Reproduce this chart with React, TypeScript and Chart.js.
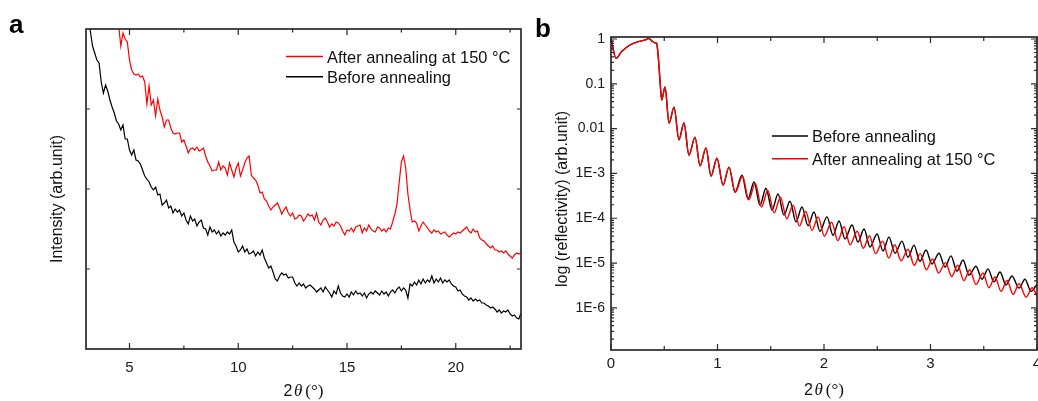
import { useEffect, useRef } from 'react';
import { Chart, registerables } from 'chart.js';

Chart.register(...registerables);

const SANS = '"Liberation Sans", Arial, sans-serif';
const SERIF = '"Liberation Serif", "Times New Roman", serif';
const AXIS_COLOR = '#2a2a2a';
const TEXT_COLOR = '#111111';

// ---------- Panel a: XRD ----------
const xrdAngle = [
  3.1, 3.2, 3.3, 3.4, 3.5, 3.6, 3.7, 3.8, 3.9, 4.0,
  4.1, 4.2, 4.3, 4.4, 4.5, 4.6, 4.7, 4.8, 4.9, 5.0,
  5.1, 5.2, 5.3, 5.4, 5.5, 5.6, 5.7, 5.8, 5.9, 6.0,
  6.1, 6.2, 6.3, 6.4, 6.5, 6.6, 6.7, 6.8, 6.9, 7.0,
  7.1, 7.2, 7.3, 7.4, 7.5, 7.6, 7.7, 7.8, 7.9, 8.0,
  8.1, 8.2, 8.3, 8.4, 8.5, 8.6, 8.7, 8.8, 8.9, 9.0,
  9.1, 9.2, 9.3, 9.4, 9.5, 9.6, 9.7, 9.8, 9.9, 10.0,
  10.1, 10.2, 10.3, 10.4, 10.5, 10.6, 10.7, 10.8, 10.9, 11.0,
  11.1, 11.2, 11.3, 11.4, 11.5, 11.6, 11.7, 11.8, 11.9, 12.0,
  12.1, 12.2, 12.3, 12.4, 12.5, 12.6, 12.7, 12.8, 12.9, 13.0,
  13.1, 13.2, 13.3, 13.4, 13.5, 13.6, 13.7, 13.8, 13.9, 14.0,
  14.1, 14.2, 14.3, 14.4, 14.5, 14.6, 14.7, 14.8, 14.9, 15.0,
  15.1, 15.2, 15.3, 15.4, 15.5, 15.6, 15.7, 15.8, 15.9, 16.0,
  16.1, 16.2, 16.3, 16.4, 16.5, 16.6, 16.7, 16.8, 16.9, 17.0,
  17.1, 17.2, 17.3, 17.4, 17.5, 17.6, 17.7, 17.8, 17.9, 18.0,
  18.1, 18.2, 18.3, 18.4, 18.5, 18.6, 18.7, 18.8, 18.9, 19.0,
  19.1, 19.2, 19.3, 19.4, 19.5, 19.6, 19.7, 19.8, 19.9, 20.0,
  20.1, 20.2, 20.3, 20.4, 20.5, 20.6, 20.7, 20.8, 20.9, 21.0,
  21.1, 21.2, 21.3, 21.4, 21.5, 21.6, 21.7, 21.8, 21.9, 22.0,
  22.1, 22.2, 22.3, 22.4, 22.5, 22.6, 22.7, 22.8, 22.9, 23.0,
];

const xrdBefore = [
  327, 318, 303, 296, 289, 286, 267, 256, 264, 258,
  249, 242, 236, 228, 225, 219, 224, 210, 210, 199,
  194, 199, 189, 188, 185, 179, 173, 170, 167, 162,
  159, 162, 154, 155, 144, 146, 149, 141, 143, 136,
  140, 137, 139, 133, 136, 129, 125, 133, 128, 130,
  123, 127, 129, 121, 120, 114, 122, 117, 119, 115,
  118, 113, 116, 114, 117, 115, 119, 107, 103, 97,
  99, 103, 97, 100, 95, 96, 98, 93, 97, 94,
  99, 91, 86, 81, 83, 77, 70, 68, 73, 76,
  74, 75, 71, 72, 72, 66, 63, 66, 63, 65,
  61, 63, 64, 62, 60, 57, 59, 61, 57, 62,
  59, 56, 52, 58, 55, 63, 56, 53, 52, 55,
  52, 57, 54, 58, 55, 56, 53, 56, 51, 55,
  57, 55, 58, 56, 54, 58, 55, 57, 53, 57,
  59, 56, 60, 62, 58, 61, 59, 51, 65, 63,
  67, 64, 69, 65, 70, 66, 69, 67, 73, 66,
  70, 67, 71, 66, 69, 67, 69, 65, 63, 62,
  58, 59, 55, 53, 52, 49, 51, 48, 50, 48,
  49, 46, 46, 44, 43, 41, 42, 40, 37, 39,
  36, 38, 37, 39, 35, 33, 34, 31, 30, 36,
];

const xrdAfter = [
  null, null, null, null, null, null, null, null, null, null,
  null, null, null, null, 324, 303, 316, 310, 307, 289,
  279, 275, 274, 275, 272, 273, 267, 245, 263, 244,
  249, 233, 250, 239, 232, 222, 229, 229, 221, 216,
  215, 216, 216, 207, 209, 203, 196, 200, 201, 199,
  202, 198, 199, 201, 193, 187, 183, 178, 179, 179,
  187, 179, 183, 181, 174, 186, 179, 172, 181, 186,
  173, 179, 186, 191, 193, 174, 171, 169, 164, 156,
  157, 150, 148, 143, 139, 142, 144, 146, 141, 135,
  139, 142, 136, 133, 136, 130, 131, 134, 133, 128,
  131, 135, 133, 134, 129, 136, 127, 124, 129, 131,
  127, 122, 125, 123, 127, 126, 123, 118, 114, 119,
  118, 121, 117, 122, 123, 124, 116, 121, 118, 124,
  120, 118, 117, 122, 121, 118, 120, 117, 121, 120,
  127, 135, 145, 167, 187, 193, 181, 155, 139, 127,
  128, 126, 118, 123, 127, 124, 121, 118, 116, 119,
  117, 118, 115, 116, 117, 114, 112, 114, 116, 115,
  117, 116, 118, 120, 122, 118, 116, 120, 117, 118,
  111, 109, 108, 105, 103, 101, 103, 99, 99, 97,
  98, 96, 98, 95, 93, 91, 94, 96, 95, 96,
];

const xrdXTicks = [5, 10, 15, 20];
const xrdXMinorTicks = [7.5, 12.5, 17.5, 22.5];
const xrdYTicks = [80, 160, 240];

// ---------- Panel b: XRR (log10 of reflectivity) ----------
const xrrAngleBefore = [
  0, 0.047, 0.1, 0.178, 0.254, 0.335, 0.348, 0.394, 0.413, 0.429, 0.444, 0.46, 0.476,
  0.507, 0.545, 0.592, 0.638, 0.685, 0.732, 0.789, 0.836, 0.892, 0.939, 0.995, 1.052, 1.108,
  1.164, 1.23, 1.286, 1.343, 1.399, 1.455, 1.512, 1.568,
  1.624, 1.681, 1.737, 1.793, 1.85, 1.906, 1.962, 2.028,
  2.085, 2.141, 2.197, 2.263, 2.319, 2.376, 2.432, 2.498,
  2.554, 2.61, 2.667, 2.732, 2.789, 2.845, 2.901, 2.958,
  3.014, 3.08, 3.136, 3.192, 3.249, 3.305, 3.362, 3.427,
  3.484, 3.54, 3.596, 3.653, 3.709, 3.765, 3.831, 3.887,
  3.944, 4.0,
];
const xrrLogBefore = [
  0.02, -0.43, -0.28, -0.134, -0.06, -0.007, 0.016, -0.06, -0.083, -0.1, -0.4, -0.92, -1.36,
  -1.07, -1.875, -1.52, -2.25, -1.875, -2.59, -2.19, -2.83, -2.43, -3.06, -2.66, -3.26, -2.86,
  -3.42, -3.04, -3.57, -3.19, -3.71, -3.33, -3.82, -3.46,
  -3.93, -3.62, -4.08, -3.75, -4.17, -3.86, -4.29, -3.97,
  -4.38, -4.06, -4.46, -4.15, -4.53, -4.24, -4.64, -4.35,
  -4.73, -4.42, -4.78, -4.51, -4.87, -4.6, -4.96, -4.71,
  -5.02, -4.78, -5.09, -4.84, -5.18, -4.93, -5.27, -5.07,
  -5.36, -5.13, -5.42, -5.2, -5.49, -5.29, -5.56, -5.36,
  -5.63, -5.47,
];

const xrrAngleAfter = [
  0, 0.047, 0.1, 0.178, 0.254, 0.335, 0.348, 0.394, 0.413, 0.429, 0.444, 0.46, 0.476,
  0.507, 0.545, 0.592, 0.638, 0.685, 0.732, 0.789, 0.836, 0.892, 0.939, 0.995, 1.052, 1.108,
  1.167, 1.235, 1.294, 1.354, 1.413, 1.472, 1.532, 1.591,
  1.65, 1.71, 1.769, 1.828, 1.887, 1.945, 2.003, 2.071,
  2.13, 2.188, 2.245, 2.312, 2.369, 2.427, 2.484, 2.551,
  2.608, 2.665, 2.723, 2.789, 2.847, 2.904, 2.961, 3.019,
  3.076, 3.142, 3.199, 3.255, 3.313, 3.369, 3.427, 3.492,
  3.549, 3.606, 3.662, 3.719, 3.776, 3.832, 3.898, 3.955,
  4.0,
];
const xrrLogAfter = [
  0.02, -0.43, -0.28, -0.134, -0.06, -0.007, 0.016, -0.06, -0.083, -0.1, -0.4, -0.92, -1.36,
  -1.07, -1.875, -1.52, -2.25, -1.875, -2.59, -2.19, -2.83, -2.43, -3.06, -2.66, -3.26, -2.86,
  -3.42, -3.06, -3.59, -3.22, -3.75, -3.38, -3.88, -3.53,
  -4.01, -3.71, -4.17, -3.85, -4.27, -3.97, -4.4, -4.09,
  -4.5, -4.19, -4.59, -4.29, -4.67, -4.39, -4.79, -4.51,
  -4.89, -4.59, -4.95, -4.69, -5.05, -4.79, -5.15, -4.91,
  -5.22, -4.99, -5.3, -5.05, -5.39, -5.15, -5.48, -5.22,
  -5.55, -5.31, -5.63, -5.39, -5.7, -5.46, -5.76, -5.55,
  -5.74,
];

const xrrXTicks = [0, 1, 2, 3, 4];
const xrrXMinorTicks = [0.5, 1.5, 2.5, 3.5];
const xrrYTicks = [-6, -5, -4, -3, -2, -1, 0];
const xrrYTickLabels = ['1E-6', '1E-5', '1E-4', '1E-3', '0.01', '0.1', '1'];
const xrrYMin = -6.94;
const xrrYMax = 0.045;

const LABEL_AFTER = 'After annealing at 150 \u00B0C';
const LABEL_BEFORE = 'Before annealing';

type Decor = {
  letter: string;
  letterX: number;
  letterY: number;
  yTitle: string;
  yTitleX: number;
  yTitleY: number;
  xTitleY: number;
  xMajor: number[];
  xMinor: number[];
  yMajor: number[];
  yMinor: number[];
  xMajorLen: number;
  xMinorLen: number;
  yMajorLen: number;
  yMinorLen: number;
  legendX0: number;
  legendX1: number;
  legendTextX: number;
  legendRows: { ds: number; y: number }[];
};

function decorPlugin(d: Decor) {
  return {
    id: 'decor',
    afterDatasetsDraw(chart: any) {
      const { ctx, chartArea: a } = chart;
      const xs = chart.scales.x;
      const ys = chart.scales.y;
      ctx.save();
      // inward ticks on all four sides
      ctx.strokeStyle = AXIS_COLOR;
      ctx.lineWidth = 1.2;
      ctx.beginPath();
      const seg = (x1: number, y1: number, x2: number, y2: number) => {
        ctx.moveTo(x1, y1);
        ctx.lineTo(x2, y2);
      };
      const xTick = (v: number, len: number) => {
        const p = xs.getPixelForValue(v);
        seg(p, a.bottom, p, a.bottom - len);
        seg(p, a.top, p, a.top + len);
      };
      const yTick = (v: number, len: number) => {
        const p = ys.getPixelForValue(v);
        seg(a.left, p, a.left + len, p);
        seg(a.right, p, a.right - len, p);
      };
      d.xMajor.forEach((v) => xTick(v, d.xMajorLen));
      d.xMinor.forEach((v) => xTick(v, d.xMinorLen));
      d.yMajor.forEach((v) => yTick(v, d.yMajorLen));
      d.yMinor.forEach((v) => yTick(v, d.yMinorLen));
      ctx.stroke();
      // frame
      ctx.lineWidth = 1.7;
      ctx.strokeRect(a.left, a.top, a.right - a.left, a.bottom - a.top);

      ctx.fillStyle = TEXT_COLOR;
      // y title
      ctx.save();
      ctx.font = `16px ${SANS}`;
      ctx.translate(d.yTitleX, d.yTitleY);
      ctx.rotate(-Math.PI / 2);
      ctx.textAlign = 'center';
      ctx.textBaseline = 'alphabetic';
      ctx.fillText(d.yTitle, 0, 0);
      ctx.restore();

      // x title: 2θ(°) with italic theta
      const parts = [
        { t: '2', f: `16px ${SANS}`, gap: 1.5 },
        { t: '\u03B8', f: `italic 17px ${SERIF}`, gap: 3 },
        { t: '(\u00B0)', f: `17px ${SERIF}`, gap: 0 },
      ];
      ctx.textAlign = 'left';
      ctx.textBaseline = 'alphabetic';
      let total = 0;
      const widths = parts.map((p) => {
        ctx.font = p.f;
        const w = ctx.measureText(p.t).width;
        total += w + p.gap;
        return w;
      });
      let cx = (a.left + a.right) / 2 - total / 2;
      parts.forEach((p, i) => {
        ctx.font = p.f;
        ctx.fillText(p.t, cx, d.xTitleY);
        cx += widths[i] + p.gap;
      });

      // panel letter
      ctx.font = `bold 26px ${SANS}`;
      ctx.fillStyle = '#000';
      ctx.fillText(d.letter, d.letterX, d.letterY);

      // legend
      ctx.font = `16.4px ${SANS}`;
      ctx.fillStyle = TEXT_COLOR;
      d.legendRows.forEach((r) => {
        const ds = chart.data.datasets[r.ds];
        ctx.strokeStyle = ds.borderColor;
        ctx.lineWidth = 1.4;
        ctx.beginPath();
        ctx.moveTo(d.legendX0, r.y);
        ctx.lineTo(d.legendX1, r.y);
        ctx.stroke();
        ctx.fillText(ds.label, d.legendTextX, r.y + 6);
      });
      ctx.restore();
    },
  };
}

function pairs(xs: number[], ys: (number | null)[]) {
  const out: { x: number; y: number }[] = [];
  xs.forEach((x, i) => {
    const y = ys[i];
    if (y !== null && y !== undefined) out.push({ x, y });
  });
  return out;
}

function configA(): any {
  return {
    type: 'line',
    data: {
      datasets: [
        {
          label: LABEL_AFTER,
          data: pairs(xrdAngle, xrdAfter),
          borderColor: '#ff0000',
          borderWidth: 1.2,
          pointRadius: 0,
          tension: 0,
          order: 0,
        },
        {
          label: LABEL_BEFORE,
          data: pairs(xrdAngle, xrdBefore),
          borderColor: '#000000',
          borderWidth: 1.2,
          pointRadius: 0,
          tension: 0,
          order: 1,
        },
      ],
    },
    options: {
      animation: false,
      responsive: false,
      events: [],
      layout: { padding: { top: 29, right: 9, left: 0, bottom: 0 } },
      plugins: { legend: { display: false }, tooltip: { enabled: false } },
      scales: {
        x: {
          type: 'linear',
          position: 'bottom',
          min: 3,
          max: 23,
          grid: { display: false, drawTicks: false },
          border: { display: false },
          afterBuildTicks: (s: any) => {
            s.ticks = xrdXTicks.map((v) => ({ value: v }));
          },
          afterFit: (s: any) => {
            s.height = 52;
            s.paddingLeft = 0;
            s.paddingRight = 0;
          },
          ticks: {
            font: { family: SANS, size: 15 },
            color: '#1a1a1a',
            padding: 10,
            maxRotation: 0,
            autoSkip: false,
            callback: (v: number) => String(v),
          },
        },
        y: {
          type: 'linear',
          position: 'left',
          min: 0,
          max: 320,
          grid: { display: false, drawTicks: false },
          border: { display: false },
          ticks: { display: false },
          afterFit: (s: any) => {
            s.width = 86;
            s.paddingTop = 0;
            s.paddingBottom = 0;
          },
        },
      },
    },
    plugins: [
      decorPlugin({
        letter: 'a',
        letterX: 9,
        letterY: 33,
        yTitle: 'Intensity (arb.unit)',
        yTitleX: 62,
        yTitleY: 199,
        xTitleY: 396,
        xMajor: xrdXTicks,
        xMinor: xrdXMinorTicks,
        yMajor: xrdYTicks,
        yMinor: [],
        xMajorLen: 6,
        xMinorLen: 3.5,
        yMajorLen: 4,
        yMinorLen: 0,
        legendX0: 286,
        legendX1: 323,
        legendTextX: 327,
        legendRows: [
          { ds: 0, y: 56.5 },
          { ds: 1, y: 76.7 },
        ],
      }),
    ],
  };
}

function configB(): any {
  const yMinor: number[] = [];
  for (let n = -7; n <= 0; n++) {
    for (let k = 2; k <= 9; k++) {
      const v = n + Math.log10(k);
      if (v > xrrYMin && v < xrrYMax) yMinor.push(v);
    }
  }
  return {
    type: 'line',
    data: {
      datasets: [
        {
          label: LABEL_BEFORE,
          data: pairs(xrrAngleBefore, xrrLogBefore),
          borderColor: '#000000',
          borderWidth: 1.4,
          pointRadius: 0,
          cubicInterpolationMode: 'monotone',
          order: 1,
        },
        {
          label: LABEL_AFTER,
          data: pairs(xrrAngleAfter, xrrLogAfter),
          borderColor: '#ff0000',
          borderWidth: 1.4,
          pointRadius: 0,
          cubicInterpolationMode: 'monotone',
          order: 0,
        },
      ],
    },
    options: {
      animation: false,
      responsive: false,
      events: [],
      layout: { padding: { top: 37, right: 1, left: 0, bottom: 0 } },
      plugins: { legend: { display: false }, tooltip: { enabled: false } },
      scales: {
        x: {
          type: 'linear',
          position: 'bottom',
          min: 0,
          max: 4,
          grid: { display: false, drawTicks: false },
          border: { display: false },
          afterBuildTicks: (s: any) => {
            s.ticks = xrrXTicks.map((v) => ({ value: v }));
          },
          afterFit: (s: any) => {
            s.height = 51;
            s.paddingLeft = 0;
            s.paddingRight = 0;
          },
          ticks: {
            font: { family: SANS, size: 15 },
            color: '#1a1a1a',
            padding: 5,
            maxRotation: 0,
            autoSkip: false,
            callback: (v: number) => String(v),
          },
        },
        y: {
          type: 'linear',
          position: 'left',
          min: xrrYMin,
          max: xrrYMax,
          grid: { display: false, drawTicks: false },
          border: { display: false },
          afterBuildTicks: (s: any) => {
            s.ticks = xrrYTicks.map((v) => ({ value: v }));
          },
          afterFit: (s: any) => {
            s.width = 81;
            s.paddingTop = 0;
            s.paddingBottom = 0;
          },
          ticks: {
            font: { family: SANS, size: 14 },
            color: '#1a1a1a',
            padding: 6,
            autoSkip: false,
            callback: (v: number) => xrrYTickLabels[xrrYTicks.indexOf(v)],
          },
        },
      },
    },
    plugins: [
      decorPlugin({
        letter: 'b',
        letterX: 5,
        letterY: 37,
        yTitle: 'log (reflectivity) (arb.unit)',
        yTitleX: 37,
        yTitleY: 199,
        xTitleY: 395,
        xMajor: xrrXTicks,
        xMinor: xrrXMinorTicks,
        yMajor: xrrYTicks,
        yMinor,
        xMajorLen: 6,
        xMinorLen: 4,
        yMajorLen: 6,
        yMinorLen: 3,
        legendX0: 242,
        legendX1: 278,
        legendTextX: 282,
        legendRows: [
          { ds: 0, y: 136 },
          { ds: 1, y: 158.7 },
        ],
      }),
    ],
  };
}

export default function App() {
  const refA = useRef<HTMLCanvasElement>(null);
  const refB = useRef<HTMLCanvasElement>(null);

  useEffect(() => {
    const chartA = new Chart(refA.current as HTMLCanvasElement, configA());
    const chartB = new Chart(refB.current as HTMLCanvasElement, configB());
    return () => {
      chartA.destroy();
      chartB.destroy();
    };
  }, []);

  return (
    <div
      style={{
        position: 'absolute',
        left: 0,
        top: 0,
        width: 1038,
        height: 401,
        background: '#ffffff',
        overflow: 'hidden',
      }}
    >
      <canvas ref={refA} width={530} height={401} style={{ position: 'absolute', left: 0, top: 0 }} />
      <canvas ref={refB} width={508} height={401} style={{ position: 'absolute', left: 530, top: 0 }} />
    </div>
  );
}
